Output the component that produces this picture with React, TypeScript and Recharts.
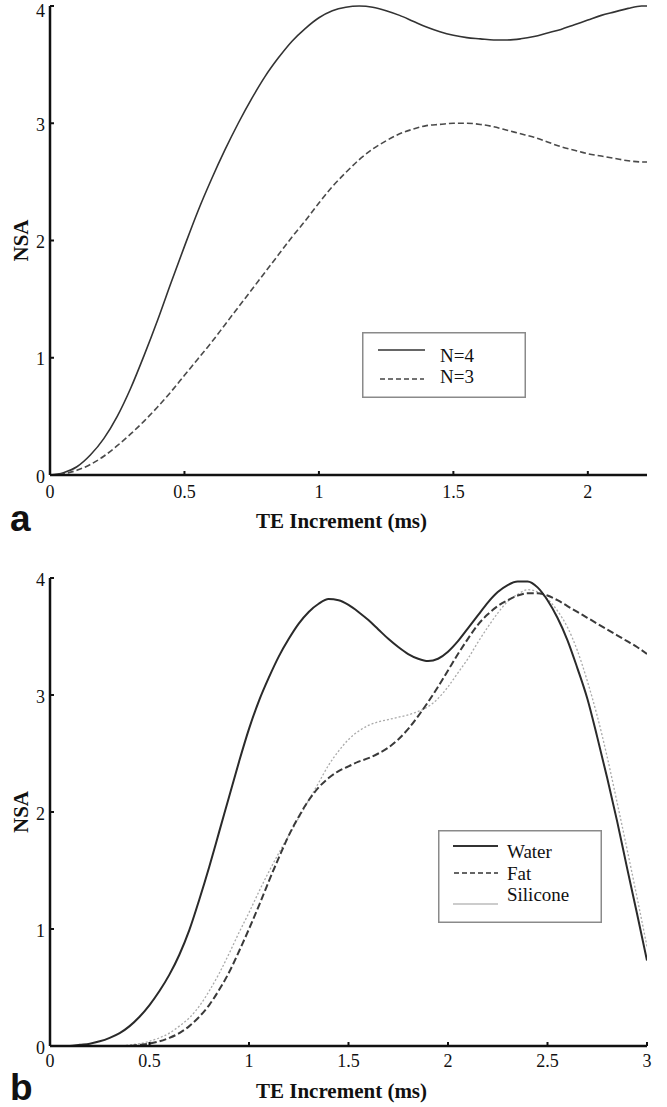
import React from 'react';
import { LineChart, Line, XAxis, YAxis, Legend, Label } from 'recharts';

// ---------- Panel a data ----------
const xA = [0, 0.05, 0.1, 0.15, 0.2, 0.25, 0.3, 0.35, 0.4, 0.45, 0.5, 0.55, 0.6, 0.65, 0.7, 0.75, 0.8, 0.85, 0.9, 0.95, 1, 1.05, 1.1, 1.15, 1.2, 1.25, 1.3, 1.35, 1.4, 1.45, 1.5, 1.55, 1.6, 1.65, 1.7, 1.75, 1.8, 1.85, 1.9, 1.95, 2, 2.05, 2.1, 2.15, 2.2, 2.22];
const n4 = [0, 0.02, 0.07, 0.17, 0.31, 0.5, 0.74, 1.02, 1.32, 1.64, 1.95, 2.25, 2.52, 2.77, 3.0, 3.21, 3.4, 3.56, 3.7, 3.81, 3.9, 3.96, 3.99, 4.0, 3.99, 3.96, 3.92, 3.87, 3.82, 3.78, 3.75, 3.73, 3.72, 3.71, 3.71, 3.72, 3.74, 3.77, 3.8, 3.84, 3.88, 3.92, 3.95, 3.98, 4.0, 4.0];
const n3 = [0, 0.01, 0.04, 0.09, 0.16, 0.25, 0.35, 0.46, 0.58, 0.71, 0.85, 0.99, 1.13, 1.28, 1.43, 1.58, 1.73, 1.88, 2.03, 2.17, 2.32, 2.46, 2.58, 2.69, 2.78, 2.85, 2.91, 2.95, 2.98, 2.99, 3.0, 3.0, 2.99, 2.97, 2.94, 2.91, 2.88, 2.84, 2.8, 2.77, 2.74, 2.72, 2.7, 2.68, 2.67, 2.67];
const ticksXA = [0, 0.5, 1, 1.5, 2];

// ---------- Panel b data ----------
const xB = [0, 0.05, 0.1, 0.15, 0.2, 0.25, 0.3, 0.35, 0.4, 0.45, 0.5, 0.55, 0.6, 0.65, 0.7, 0.75, 0.8, 0.85, 0.9, 0.95, 1, 1.05, 1.1, 1.15, 1.2, 1.25, 1.3, 1.35, 1.4, 1.45, 1.5, 1.55, 1.6, 1.65, 1.7, 1.75, 1.8, 1.85, 1.9, 1.95, 2, 2.05, 2.1, 2.15, 2.2, 2.25, 2.3, 2.35, 2.4, 2.45, 2.5, 2.55, 2.6, 2.65, 2.7, 2.75, 2.8, 2.85, 2.9, 2.95, 3];
const water = [0, 0, 0, 0.01, 0.02, 0.04, 0.07, 0.11, 0.17, 0.25, 0.35, 0.47, 0.61, 0.78, 0.99, 1.25, 1.53, 1.83, 2.13, 2.43, 2.71,
  2.95, 3.15, 3.33, 3.48, 3.61, 3.71, 3.78, 3.82, 3.81, 3.77, 3.71, 3.64, 3.56, 3.48, 3.41, 3.35, 3.31, 3.29, 3.31, 3.37,
  3.46, 3.57, 3.68, 3.79, 3.88, 3.94, 3.97, 3.97, 3.92, 3.81, 3.66, 3.47, 3.23, 2.97, 2.64, 2.29, 1.92, 1.52, 1.13, 0.73];
const fat = [0, 0, 0, 0, 0, 0, 0, 0, 0, 0.01, 0.02, 0.04, 0.07, 0.11, 0.17, 0.25, 0.35, 0.48, 0.63, 0.81, 1.0,
  1.2, 1.41, 1.61, 1.8, 1.96, 2.1, 2.21, 2.29, 2.35, 2.39, 2.43, 2.46, 2.5, 2.55, 2.62, 2.71, 2.82, 2.94, 3.07, 3.21,
  3.35, 3.48, 3.6, 3.69, 3.76, 3.81, 3.85, 3.87, 3.87, 3.85, 3.81, 3.76, 3.71, 3.66, 3.61, 3.56, 3.51, 3.46, 3.41, 3.35];
const silicone = [0, 0, 0, 0, 0, 0, 0, 0, 0.01, 0.02, 0.04, 0.07, 0.11, 0.17, 0.24, 0.34, 0.47, 0.62, 0.79, 0.97, 1.14,
  1.32, 1.49, 1.65, 1.8, 1.95, 2.1, 2.25, 2.4, 2.52, 2.62, 2.69, 2.74, 2.77, 2.79, 2.81, 2.83, 2.86, 2.9, 2.97, 3.07,
  3.19, 3.31, 3.45, 3.58, 3.7, 3.8, 3.86, 3.9, 3.88, 3.82, 3.72, 3.58, 3.38, 3.12, 2.82, 2.47, 2.08, 1.68, 1.27, 0.85];
const ticksXB = [0, 0.5, 1, 1.5, 2, 2.5, 3];
const ticksY = [0, 1, 2, 3, 4];

const dataA = xA.map((x, i) => ({ x, n4: n4[i], n3: n3[i] }));
const dataB = xB.map((x, i) => ({ x, water: water[i], fat: fat[i], silicone: silicone[i] }));

const SERIF = "'Liberation Serif', 'Times New Roman', serif";
const SANS = "'Liberation Sans', Arial, sans-serif";
const tickStyle = { fontSize: 18, fill: '#111', fontFamily: SERIF };
const axisLineStyle = { stroke: '#111', strokeWidth: 2.5 };
const tickLineStyle = { stroke: '#111', strokeWidth: 2 };

const YTick = (props: any) => {
  const { x, y, payload } = props;
  const baseline = Math.max(y + 7.5, 16.5);
  return (
    <text x={x} y={baseline} textAnchor="end" fontFamily={SERIF} fontSize={18} fill="#111">
      {payload.value}
    </text>
  );
};

const XTitle = (props: any) => {
  const { viewBox, titleDy, letter, letterDy } = props;
  const cx = viewBox.x + viewBox.width / 2 - 7;
  return (
    <g>
      <text x={cx} y={viewBox.y + titleDy} textAnchor="middle" fontFamily={SERIF} fontWeight="bold" fontSize={21} fill="#111">
        TE Increment (ms)
      </text>
      <text x={10} y={viewBox.y + letterDy} textAnchor="start" fontFamily={SANS} fontWeight="bold" fontSize={37} fill="#111">
        {letter}
      </text>
    </g>
  );
};

const YTitle = (props: any) => {
  const { viewBox } = props;
  const cy = viewBox.y + viewBox.height / 2;
  const x = 28;
  return (
    <text x={x} y={cy} transform={`rotate(-90, ${x}, ${cy})`} textAnchor="middle" fontFamily={SERIF} fontWeight="bold" fontSize={21} fill="#111">
      NSA
    </text>
  );
};

const LegendA = () => (
  <svg width={165} height={67} style={{ display: 'block' }}>
    <rect x={0.75} y={0.75} width={162.5} height={64.5} fill="#fff" stroke="#8a8a8a" strokeWidth={1.5} />
    <line x1={16} x2={63} y1={18} y2={18} stroke="#333" strokeWidth={1.6} />
    <text x={78} y={30} fontFamily={SERIF} fontSize={19} fill="#111">N=4</text>
    <line x1={18} x2={62} y1={47} y2={47} stroke="#444" strokeWidth={1.4} strokeDasharray="5 3" />
    <text x={78} y={51} fontFamily={SERIF} fontSize={19} fill="#111">N=3</text>
  </svg>
);

const LegendB = () => (
  <svg width={165} height={94} style={{ display: 'block' }}>
    <rect x={0.75} y={0.75} width={162.5} height={91.5} fill="#fff" stroke="#8a8a8a" strokeWidth={1.5} />
    <line x1={15} x2={60} y1={16} y2={16} stroke="#333" strokeWidth={1.8} />
    <text x={69} y={28} fontFamily={SERIF} fontSize={19} fill="#111">Water</text>
    <line x1={16} x2={60} y1={43} y2={43} stroke="#333" strokeWidth={1.5} strokeDasharray="5 3" />
    <text x={69} y={50} fontFamily={SERIF} fontSize={19} fill="#111">Fat</text>
    <line x1={15} x2={60} y1={74} y2={74} stroke="#bbb" strokeWidth={1.3} />
    <text x={69} y={71} fontFamily={SERIF} fontSize={19} fill="#111">Silicone</text>
  </svg>
);

export default function App() {
  return (
    <div style={{ position: 'absolute', left: 0, top: 0, width: 667, height: 1107, background: '#fff' }}>
      <div style={{ position: 'absolute', left: 0, top: 0 }}>
        <LineChart width={667} height={545} data={dataA} margin={{ top: 6, right: 20, left: 0, bottom: 0 }}>
          <XAxis dataKey="x" type="number" domain={[0, 2.22]} ticks={ticksXA} allowDataOverflow
            height={70} tickSize={-4} tickMargin={14} tick={tickStyle} axisLine={axisLineStyle} tickLine={tickLineStyle} interval={0}>
            <Label content={(p: any) => <XTitle {...p} titleDy={53} letter="a" letterDy={56} />} />
          </XAxis>
          <YAxis type="number" domain={[0, 4]} ticks={ticksY} width={50} tickSize={-4} tickMargin={9}
            tick={<YTick />} axisLine={axisLineStyle} tickLine={tickLineStyle} interval={0}>
            <Label content={(p: any) => <YTitle {...p} />} />
          </YAxis>
          <Legend layout="horizontal" verticalAlign="middle" align="center"
            wrapperStyle={{ position: 'absolute', left: 362, top: 332, width: 165, height: 67 }}
            content={() => <LegendA />} />
          <Line type="monotone" dataKey="n4" stroke="#333" strokeWidth={1.6} dot={false} activeDot={false} isAnimationActive={false} />
          <Line type="monotone" dataKey="n3" stroke="#4a4a4a" strokeWidth={1.6} strokeDasharray="6 3" dot={false} activeDot={false} isAnimationActive={false} />
        </LineChart>
      </div>
      <div style={{ position: 'absolute', left: 0, top: 545 }}>
        <LineChart width={667} height={562} data={dataB} margin={{ top: 33, right: 20, left: 0, bottom: 0 }}>
          <XAxis dataKey="x" type="number" domain={[0, 3]} ticks={ticksXB} allowDataOverflow
            height={61} tickSize={-4} tickMargin={12} tick={tickStyle} axisLine={axisLineStyle} tickLine={tickLineStyle} interval={0}>
            <Label content={(p: any) => <XTitle {...p} titleDy={52} letter="b" letterDy={54} />} />
          </XAxis>
          <YAxis type="number" domain={[0, 4]} ticks={ticksY} width={50} tickSize={-4} tickMargin={9}
            tick={<YTick />} axisLine={axisLineStyle} tickLine={tickLineStyle} interval={0}>
            <Label content={(p: any) => <YTitle {...p} />} />
          </YAxis>
          <Legend layout="horizontal" verticalAlign="middle" align="center"
            wrapperStyle={{ position: 'absolute', left: 438, top: 285, width: 165, height: 94 }}
            content={() => <LegendB />} />
          <Line type="monotone" dataKey="silicone" stroke="#aaa" strokeWidth={1.3} strokeDasharray="2 2" dot={false} activeDot={false} isAnimationActive={false} />
          <Line type="monotone" dataKey="fat" stroke="#3a3a3a" strokeWidth={2} strokeDasharray="7 3" dot={false} activeDot={false} isAnimationActive={false} />
          <Line type="monotone" dataKey="water" stroke="#2a2a2a" strokeWidth={2} dot={false} activeDot={false} isAnimationActive={false} />
        </LineChart>
      </div>
    </div>
  );
}
